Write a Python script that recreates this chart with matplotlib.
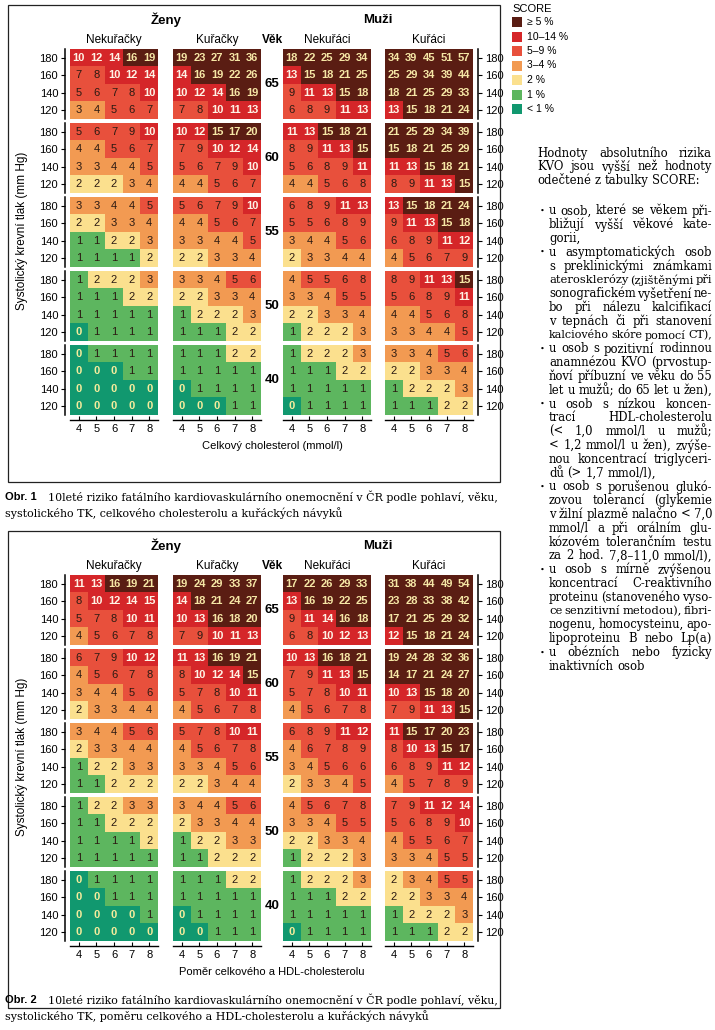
import matplotlib
matplotlib.use('Agg')
import matplotlib.pyplot as plt
from matplotlib.colors import ListedColormap
from matplotlib.patches import Rectangle
import numpy as np

plt.rcParams['font.family'] = ['Liberation Sans', 'DejaVu Sans']

W, H = 715, 1030

ages = [65, 60, 55, 50, 40]
sbp_labels = ['180', '160', '140', '120']
x_labels = ['4', '5', '6', '7', '8']
panel_titles = ['Nekuřačky', 'Kuřačky', 'Nekuřáci', 'Kuřáci']

score_labels = ['≥ 5 %', '10–14 %', '5–9 %', '3–4 %', '2 %', '1 %', '< 1 %']
score_colors = ['#5a1d13', '#d52629', '#e8503c', '#f29a52', '#fbe08e', '#5db65f', '#11986f']

# Obr. 1 - celkovy cholesterol (rows 180/160/140/120 for ages 65,60,55,50,40)
obr1_women_nonsmokers = [
    [10, 12, 14, 16, 19], [7, 8, 10, 12, 14], [5, 6, 7, 8, 10], [3, 4, 5, 6, 7],
    [5, 6, 7, 9, 10], [4, 4, 5, 6, 7], [3, 3, 4, 4, 5], [2, 2, 2, 3, 4],
    [3, 3, 4, 4, 5], [2, 2, 3, 3, 4], [1, 1, 2, 2, 3], [1, 1, 1, 1, 2],
    [1, 2, 2, 2, 3], [1, 1, 1, 2, 2], [1, 1, 1, 1, 1], [0, 1, 1, 1, 1],
    [0, 1, 1, 1, 1], [0, 0, 0, 1, 1], [0, 0, 0, 0, 0], [0, 0, 0, 0, 0],
]
obr1_women_smokers = [
    [19, 23, 27, 31, 36], [14, 16, 19, 22, 26], [10, 12, 14, 16, 19], [7, 8, 10, 11, 13],
    [10, 12, 15, 17, 20], [7, 9, 10, 12, 14], [5, 6, 7, 9, 10], [4, 4, 5, 6, 7],
    [5, 6, 7, 9, 10], [4, 4, 5, 6, 7], [3, 3, 4, 4, 5], [2, 2, 3, 3, 4],
    [3, 3, 4, 5, 6], [2, 2, 3, 3, 4], [1, 2, 2, 2, 3], [1, 1, 1, 2, 2],
    [1, 1, 1, 2, 2], [1, 1, 1, 1, 1], [0, 1, 1, 1, 1], [0, 0, 0, 1, 1],
]
obr1_men_nonsmokers = [
    [18, 22, 25, 29, 34], [13, 15, 18, 21, 25], [9, 11, 13, 15, 18], [6, 8, 9, 11, 13],
    [11, 13, 15, 18, 21], [8, 9, 11, 13, 15], [5, 6, 8, 9, 11], [4, 4, 5, 6, 8],
    [6, 8, 9, 11, 13], [5, 5, 6, 8, 9], [3, 4, 4, 5, 6], [2, 3, 3, 4, 4],
    [4, 5, 5, 6, 8], [3, 3, 4, 5, 5], [2, 2, 3, 3, 4], [1, 2, 2, 2, 3],
    [1, 2, 2, 2, 3], [1, 1, 1, 2, 2], [1, 1, 1, 1, 1], [0, 1, 1, 1, 1],
]
obr1_men_smokers = [
    [34, 39, 45, 51, 57], [25, 29, 34, 39, 44], [18, 21, 25, 29, 33], [13, 15, 18, 21, 24],
    [21, 25, 29, 34, 39], [15, 18, 21, 25, 29], [11, 13, 15, 18, 21], [8, 9, 11, 13, 15],
    [13, 15, 18, 21, 24], [9, 11, 13, 15, 18], [6, 8, 9, 11, 12], [4, 5, 6, 7, 9],
    [8, 9, 11, 13, 15], [5, 6, 8, 9, 11], [4, 4, 5, 6, 8], [3, 3, 4, 4, 5],
    [3, 3, 4, 5, 6], [2, 2, 3, 3, 4], [1, 2, 2, 2, 3], [1, 1, 1, 2, 2],
]

# Obr. 2 - pomer celkoveho a HDL-cholesterolu
obr2_women_nonsmokers = [
    [11, 13, 16, 19, 21], [8, 10, 12, 14, 15], [5, 7, 8, 10, 11], [4, 5, 6, 7, 8],
    [6, 7, 9, 10, 12], [4, 5, 6, 7, 8], [3, 4, 4, 5, 6], [2, 3, 3, 4, 4],
    [3, 4, 4, 5, 6], [2, 3, 3, 4, 4], [1, 2, 2, 3, 3], [1, 1, 2, 2, 2],
    [1, 2, 2, 3, 3], [1, 1, 2, 2, 2], [1, 1, 1, 1, 2], [1, 1, 1, 1, 1],
    [0, 1, 1, 1, 1], [0, 0, 1, 1, 1], [0, 0, 0, 0, 1], [0, 0, 0, 0, 0],
]
obr2_women_smokers = [
    [19, 24, 29, 33, 37], [14, 18, 21, 24, 27], [10, 13, 16, 18, 20], [7, 9, 10, 11, 13],
    [11, 13, 16, 19, 21], [8, 10, 12, 14, 15], [5, 7, 8, 10, 11], [4, 5, 6, 7, 8],
    [5, 7, 8, 10, 11], [4, 5, 6, 7, 8], [3, 3, 4, 5, 6], [2, 2, 3, 4, 4],
    [3, 4, 4, 5, 6], [2, 3, 3, 4, 4], [1, 2, 2, 3, 3], [1, 1, 2, 2, 2],
    [1, 1, 1, 2, 2], [1, 1, 1, 1, 1], [0, 1, 1, 1, 1], [0, 0, 1, 1, 1],
]
obr2_men_nonsmokers = [
    [17, 22, 26, 29, 33], [13, 16, 19, 22, 25], [9, 11, 14, 16, 18], [6, 8, 10, 12, 13],
    [10, 13, 16, 18, 21], [7, 9, 11, 13, 15], [5, 7, 8, 10, 11], [4, 5, 6, 7, 8],
    [6, 8, 9, 11, 12], [4, 6, 7, 8, 9], [3, 4, 5, 6, 6], [2, 3, 3, 4, 5],
    [4, 5, 6, 7, 8], [3, 3, 4, 5, 5], [2, 2, 3, 3, 4], [1, 2, 2, 2, 3],
    [1, 2, 2, 2, 3], [1, 1, 1, 2, 2], [1, 1, 1, 1, 1], [0, 1, 1, 1, 1],
]
obr2_men_smokers = [
    [31, 38, 44, 49, 54], [23, 28, 33, 38, 42], [17, 21, 25, 29, 32], [12, 15, 18, 21, 24],
    [19, 24, 28, 32, 36], [14, 17, 21, 24, 27], [10, 13, 15, 18, 20], [7, 9, 11, 13, 15],
    [11, 15, 17, 20, 23], [8, 10, 13, 15, 17], [6, 8, 9, 11, 12], [4, 5, 7, 8, 9],
    [7, 9, 11, 12, 14], [5, 6, 8, 9, 10], [4, 5, 5, 6, 7], [3, 3, 4, 5, 5],
    [2, 3, 4, 5, 5], [2, 2, 3, 3, 4], [1, 2, 2, 2, 3], [1, 1, 1, 2, 2],
]

# cells whose colour differs from the printed (rounded) value: (chart, panel, row, col, band)
colour_overrides = [(2, 0, 1, 4, 1), (2, 3, 5, 0, 0)]

charts = [
    (1, [obr1_women_nonsmokers, obr1_women_smokers, obr1_men_nonsmokers, obr1_men_smokers],
     'Celkový cholesterol (mmol/l)',
     ['10leté riziko fatálního kardiovaskulárního onemocnění v ČR podle pohlaví, věku,',
      'systolického TK, celkového cholesterolu a kuřáckých návyků']),
    (2, [obr2_women_nonsmokers, obr2_women_smokers, obr2_men_nonsmokers, obr2_men_smokers],
     'Poměr celkového a HDL-cholesterolu',
     ['10leté riziko fatálního kardiovaskulárního onemocnění v ČR podle pohlaví, věku,',
      'systolického TK, poměru celkového a HDL-cholesterolu a kuřáckých návyků']),
]

side_text = [
    ('p', 'Hodnoty absolutního rizika', True),
    ('p', 'KVO jsou vyšší než hodnoty', True),
    ('p', 'odečtené z tabulky SCORE:', False),
    ('gap', '', False),
    ('b', 'u osob, které se věkem při-', True),
    ('c', 'bližují vyšší věkové kate-', True),
    ('c', 'gorii,', False),
    ('b', 'u asymptomatických osob', True),
    ('c', 's preklinickými známkami', True),
    ('c', 'aterosklerózy (zjištěnými při', True),
    ('c', 'sonografickém vyšetření ne-', True),
    ('c', 'bo při nálezu kalcifikací', True),
    ('c', 'v tepnách či při stanovení', True),
    ('c', 'kalciového skóre pomocí CT),', True),
    ('b', 'u osob s pozitivní rodinnou', True),
    ('c', 'anamnézou KVO (prvostup-', True),
    ('c', 'ňoví příbuzní ve věku do 55', True),
    ('c', 'let u mužů; do 65 let u žen),', True),
    ('b', 'u osob s nízkou koncen-', True),
    ('c', 'trací HDL-cholesterolu', True),
    ('c', '(< 1,0 mmol/l u mužů;', True),
    ('c', '< 1,2 mmol/l u žen), zvýše-', True),
    ('c', 'nou koncentrací triglyceri-', True),
    ('c', 'dů (> 1,7 mmol/l),', False),
    ('b', 'u osob s porušenou glukó-', True),
    ('c', 'zovou tolerancí (glykemie', True),
    ('c', 'v žilní plazmě nalačno < 7,0', True),
    ('c', 'mmol/l a při orálním glu-', True),
    ('c', 'kózovém tolerančním testu', True),
    ('c', 'za 2 hod. 7,8–11,0 mmol/l),', True),
    ('b', 'u osob s mírně zvýšenou', True),
    ('c', 'koncentrací C-reaktivního', True),
    ('c', 'proteinu (stanoveného vyso-', True),
    ('c', 'ce senzitivní metodou), fibri-', True),
    ('c', 'nogenu, homocysteinu, apo-', True),
    ('c', 'lipoproteinu B nebo Lp(a)', True),
    ('b', 'u obézních nebo fyzicky', True),
    ('c', 'inaktivních osob', False),
]


def band(v):
    if v >= 15:
        return 0
    if v >= 10:
        return 1
    if v >= 5:
        return 2
    if v >= 3:
        return 3
    if v == 2:
        return 4
    if v == 1:
        return 5
    return 6


def px(x, y, w, h):
    return [x / W, 1 - (y + h) / H, w / W, h / H]


def fx(x):
    return x / W


def fy(y):
    return 1 - y / H


fig = plt.figure(figsize=(W / 100, H / 100), dpi=100)
cmap = ListedColormap(score_colors)
text_colors = ['#f6e7a6', '#fff3e6', '#2b1a12', '#2b1a12', '#2b1a12', '#2b1a12', '#f6ec9c']

panel_left = [70, 173, 283, 385]
PW, BH = 88, 70
serif = ['DejaVu Serif']

for chart_no, panels, xlabel, caption in charts:
    dy = 0 if chart_no == 1 else 526
    fig.add_artist(Rectangle((fx(8), fy(482 + dy)), (500 - 8) / W, (482 - 5) / H,
                             transform=fig.transFigure, fill=False, lw=0.9, ec='#222222'))
    fig.text(fx(166), fy(20 + dy), 'Ženy', ha='center', va='center', fontsize=9.5, weight='bold')
    fig.text(fx(378), fy(20 + dy), 'Muži', ha='center', va='center', fontsize=9.5, weight='bold')
    for p, title in enumerate(panel_titles):
        fig.text(fx(panel_left[p] + PW / 2), fy(40 + dy), title, ha='center', va='center', fontsize=8.5)
    fig.text(fx(272), fy(40 + dy), 'Věk', ha='center', va='center', fontsize=8.5, weight='bold')

    for a, age in enumerate(ages):
        top = 49 + 74 * a + dy
        fig.text(fx(272), fy(top + BH / 2), str(age), ha='center', va='center',
                 fontsize=9.5, weight='bold')
        for p, vals in enumerate(panels):
            block = np.array(vals[a * 4:(a + 1) * 4])
            cats = np.vectorize(band)(block)
            for c, pp, r, col, b in colour_overrides:
                if c == chart_no and pp == p and r // 4 == a:
                    cats[r % 4, col] = b
            ax = fig.add_axes(px(panel_left[p], top, PW, BH))
            ax.imshow(cats, cmap=cmap, vmin=-0.5, vmax=6.5, aspect='auto', interpolation='nearest')
            for i in range(4):
                for j in range(5):
                    k = cats[i, j]
                    ax.text(j, i, str(block[i, j]), ha='center', va='center', fontsize=8,
                            color=text_colors[k], weight='bold' if k in (0, 1, 6) else 'normal')
            ax.set_xticks([])
            ax.set_yticks([])
            for s in ax.spines.values():
                s.set_visible(False)
            if p == 0 or p == 3:
                side = 'left' if p == 0 else 'right'
                ax.spines[side].set_visible(True)
                ax.spines[side].set_position(('outward', 3.5))
                ax.spines[side].set_linewidth(1.1)
                ax.set_yticks(range(4), sbp_labels)
                if p == 3:
                    ax.yaxis.tick_right()
                ax.tick_params(axis='y', direction='out', length=3, width=0.8, pad=2, labelsize=8)
            if age == 40:
                ax.spines['bottom'].set_visible(True)
                ax.spines['bottom'].set_position(('outward', 3.5))
                ax.spines['bottom'].set_linewidth(1.0)
                ax.set_xticks(range(5), x_labels)
                ax.tick_params(axis='x', direction='in', length=3, width=0.8, pad=3, labelsize=8)

    fig.text(fx(22), fy(231 + dy), 'Systolický krevní tlak (mm Hg)', rotation=90,
             ha='center', va='center', fontsize=8.5)
    fig.text(fx(272), fy(446 + dy), xlabel, ha='center', va='center', fontsize=8)

    cy = 497 + (0 if chart_no == 1 else 503)
    fig.text(fx(5), fy(cy), f'Obr. {chart_no}', ha='left', va='center', fontsize=8, weight='bold')
    fig.text(fx(48), fy(cy), caption[0], ha='left', va='center', fontsize=7.95, family=serif)
    fig.text(fx(5), fy(cy + 16), caption[1], ha='left', va='center', fontsize=7.95, family=serif)

# legend
fig.text(fx(512), fy(9), 'SCORE', ha='left', va='center', fontsize=8)
for i, (lab, col) in enumerate(zip(score_labels, score_colors)):
    yc = 22 + 14.5 * i
    fig.add_artist(Rectangle((fx(512), fy(yc + 5)), 10 / W, 10 / H,
                             transform=fig.transFigure, fc=col, ec='none'))
    fig.text(fx(527), fy(yc), lab, ha='left', va='center', fontsize=7.5)

# side text, justified line by line
renderer = fig.canvas.get_renderer()
y = 153
x_right = 712
fs = 8.4
for kind, line, just in side_text:
    if kind == 'gap':
        y += 16.5
        continue
    x0 = 537 if kind == 'p' else 549
    if kind == 'b':
        fig.text(fx(540), fy(y), '•', ha='left', va='center', fontsize=6, family=serif)
    words = line.split(' ')
    texts = [fig.text(0, fy(y), w, ha='left', va='center', fontsize=fs, family=serif)
             for w in words]
    widths = [t.get_window_extent(renderer).width for t in texts]
    min_gap = 2.5
    natural = sum(widths) + min_gap * (len(words) - 1)
    scale = min(1.0, (x_right - x0) / natural)
    if scale < 1.0:
        for t in texts:
            t.set_fontsize(fs * scale)
        widths = [wd * scale for wd in widths]
    if just and len(words) > 1:
        gap = max((x_right - x0 - sum(widths)) / (len(words) - 1), min_gap * scale)
    else:
        gap = texts[0].get_fontsize() * 0.32 * 100 / 72
    xx = x0
    for t, wd in zip(texts, widths):
        t.set_x(fx(xx))
        xx += wd + gap
    y += 13.8

fig.savefig('out.png', dpi=100, facecolor='white')
